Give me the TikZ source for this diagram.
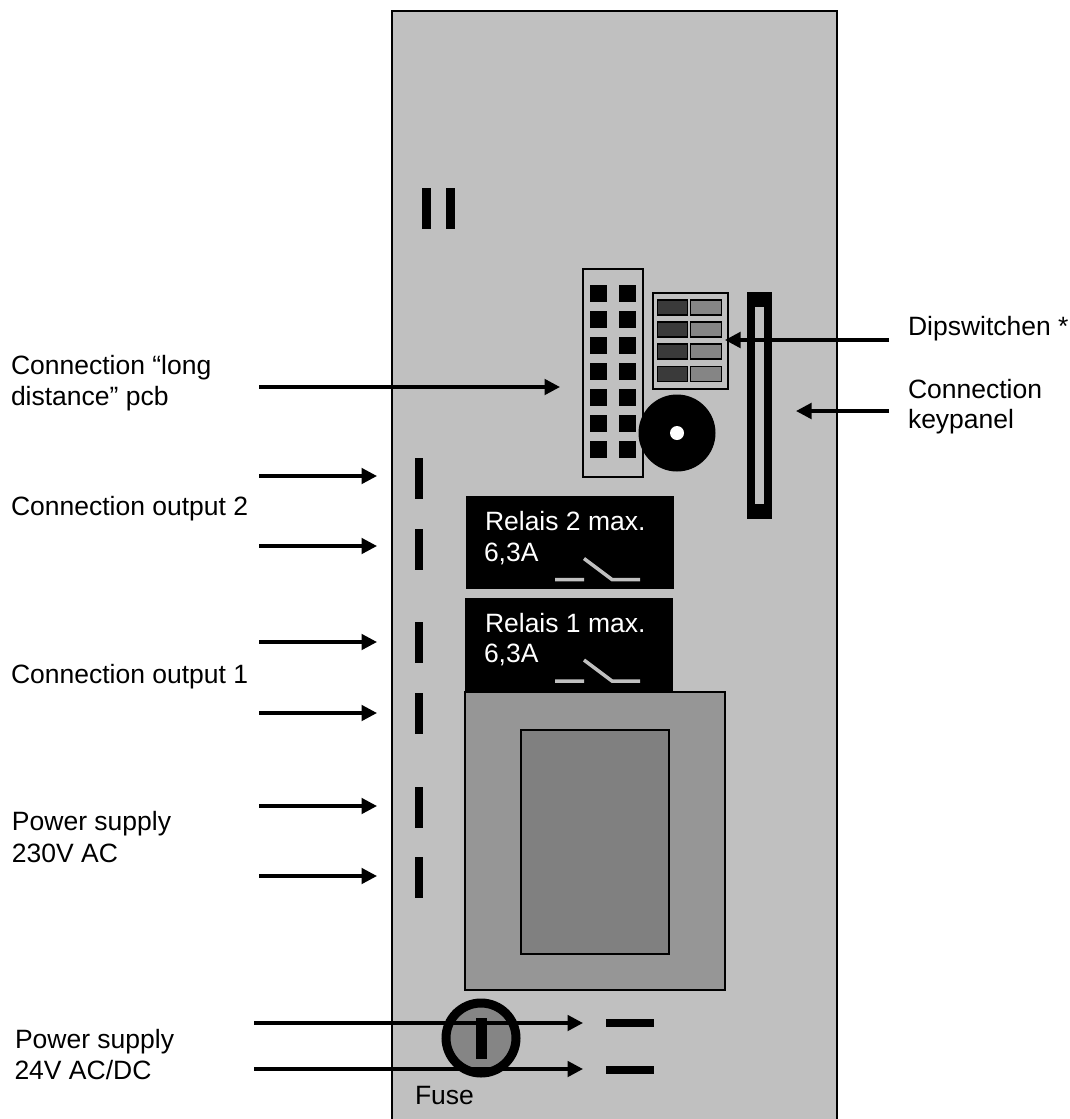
\documentclass[tikz,border=0pt]{standalone}
\usepackage{fontspec}
\setmainfont{Liberation Sans}
\usetikzlibrary{arrows.meta}
\definecolor{panel}{HTML}{C0C0C0}
\definecolor{darksw}{HTML}{3A3A3A}
\definecolor{lightsw}{HTML}{858585}
\definecolor{xfouter}{HTML}{969696}
\definecolor{xfinner}{HTML}{808080}
\tikzset{
  lbl/.style={anchor=base west,inner sep=0pt,outer sep=0pt,font=\fontsize{26.5}{30}\selectfont,text=black},
  rlbl/.style={lbl,text=white},
  arrowline/.style={draw=black,line width=3.4pt,-{Triangle[length=15.5pt,width=15.5pt]},shorten >=0pt},
  sw/.style={draw=panel,line width=3.5pt},
  bar/.style={fill=black,draw=none},
  pin/.style={fill=black,draw=none},
}
\begin{document}
\begin{tikzpicture}[x=1pt,y=-1pt]
\useasboundingbox (0,0) rectangle (1069,1119);
\begin{scope}
\clip (0,0) rectangle (1069,1119);
\fill[panel] (392,11) rectangle (837,1125);
\draw[black,line width=2pt] (392,1125) -- (392,11) -- (837,11) -- (837,1125);
\end{scope}
% top bars
\fill[bar] (422,188) rectangle (431,229);
\fill[bar] (446,188) rectangle (454.5,229);
% header
\draw[black,line width=1.7pt] (583,269) rectangle (643,477);
\foreach \r in {0,...,6} {
  \fill[pin] (590,285+26*\r) rectangle +(17,17);
  \fill[pin] (619,285+26*\r) rectangle +(17,17);
}
% dip switches
\draw[black,line width=1.8pt] (653,293) rectangle (728,389);
\foreach \yy in {300,322,344,366.5} {
  \draw[black,line width=1.8pt,fill=darksw] (657.5,\yy) rectangle +(30,15);
  \draw[black,line width=1.8pt,fill=lightsw] (690.5,\yy) rectangle +(31,15);
}
% buzzer
\fill[black] (677,433) circle[radius=38.5];
\fill[white] (677,433) circle[radius=7];
% keypanel connector
\fill[black] (747,292) rectangle (772,519);
\fill[panel] (755,307) rectangle (764,504);
% relays
\fill[black] (466,496) rectangle (674,589);
\fill[black] (465,598) rectangle (673,691);
\node[rlbl] (r2a) at (485,530) {Relais 2 max.};
\node[rlbl] (r2b) at (484,561) {6,3A};
\node[rlbl] (r1a) at (485,632) {Relais 1 max.};
\node[rlbl] (r1b) at (484,662) {6,3A};
\draw[sw] (555,579.5) -- (584,579.5) (584,558.5) -- (612,579.5) -- (640,579.5);
\draw[sw] (555,681) -- (584,681) (584,660) -- (612,681) -- (640,681);
% transformer
\draw[black,line width=2pt,fill=xfouter] (465,692) rectangle (725,990);
\draw[black,line width=1.5pt,fill=xfinner] (521,730) rectangle (669,954);
% side bars
\foreach \yy in {458,528.5,622,693,787,857} {
  \fill[bar] (414.5,\yy) rectangle +(8,41);
}
% fuse
\fill[lightsw] (481,1038) circle[radius=35];
% bottom dashes
\fill[bar] (606,1019) rectangle (654,1026.5);
\fill[bar] (606,1066) rectangle (654,1073.5);
% arrow end points
\coordinate (pcbS) at (259,387); \coordinate (pcbT) at (560,387);
\coordinate (o2aS) at (259,476); \coordinate (o2aT) at (377,476);
\coordinate (o2bS) at (259,546); \coordinate (o2bT) at (377,546);
\coordinate (o1aS) at (259,642); \coordinate (o1aT) at (377,642);
\coordinate (o1bS) at (259,713); \coordinate (o1bT) at (377,713);
\coordinate (p2aS) at (259,806); \coordinate (p2aT) at (377,806);
\coordinate (p2bS) at (259,876); \coordinate (p2bT) at (377,876);
\coordinate (p4aS) at (254,1023); \coordinate (p4aT) at (583,1023);
\coordinate (p4bS) at (254,1069); \coordinate (p4bT) at (583,1069);
\coordinate (dipS) at (889,340); \coordinate (dipT) at (725,340);
\coordinate (keyS) at (889,411); \coordinate (keyT) at (796,411);
\foreach \a in {pcb,o2a,o2b,o1a,o1b,p2a,p2b,p4a,p4b,dip,key} {
  \draw[arrowline] (\a S) -- (\a T);
}
\draw[black,line width=9pt] (481,1038) circle[radius=35];
\fill[bar] (476,1018) rectangle (487,1059);
% labels
\node[lbl] (t1) at (11,374) {Connection “long};
\node[lbl] (t2) at (11,405.5) {distance” pcb};
\node[lbl] (t3) at (908,335) {Dipswitchen *};
\node[lbl] (t4) at (908,398) {Connection};
\node[lbl] (t5) at (908,428.5) {keypanel};
\node[lbl] (t6) at (11,515) {Connection output 2};
\node[lbl] (t7) at (11,683) {Connection output 1};
\node[lbl] (t8) at (12,830.5) {Power supply};
\node[lbl] (t9) at (12,862) {230V AC};
\node[lbl] (t10) at (15,1048) {Power supply};
\node[lbl] (t11) at (14.5,1079) {24V AC/DC};
\node[lbl] (t12) at (415,1104) {Fuse};
\end{tikzpicture}
\end{document}
